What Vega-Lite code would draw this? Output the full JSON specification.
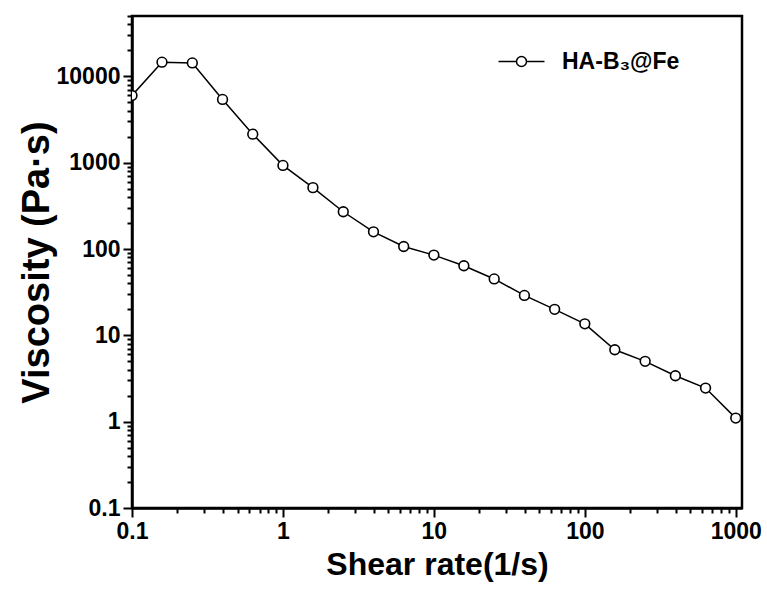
{
  "$schema": "https://vega.github.io/schema/vega-lite/v6.json",
  "width": 610,
  "height": 492,
  "autosize": "none",
  "padding": {"left": 132, "top": 16, "right": 25, "bottom": 82},
  "background": "white",
  "config": {
    "view": {"stroke": "#000000", "strokeWidth": 2.5, "strokeOpacity": 1},
    "font": "Liberation Sans",
    "axis": {
      "domainColor": "#000000",
      "domainWidth": 2.5,
      "domainOpacity": 1,
      "tickColor": "#000000",
      "tickWidth": 2,
      "tickOpacity": 1,
      "grid": false,
      "labelFont": "Liberation Sans",
      "labelFontWeight": "bold",
      "labelFontSize": 23,
      "labelColor": "#000000",
      "titleFont": "Liberation Sans",
      "titleFontWeight": "bold",
      "titleColor": "#000000",
      "labelOverlap": false,
      "labelFlush": false
    }
  },
  "data": {
    "values": [
      {"rate": 0.1, "viscosity": 6000, "series": "HA-B₃@Fe"},
      {"rate": 0.158, "viscosity": 14600, "series": "HA-B₃@Fe"},
      {"rate": 0.251, "viscosity": 14300, "series": "HA-B₃@Fe"},
      {"rate": 0.398, "viscosity": 5400, "series": "HA-B₃@Fe"},
      {"rate": 0.631, "viscosity": 2140, "series": "HA-B₃@Fe"},
      {"rate": 1, "viscosity": 930, "series": "HA-B₃@Fe"},
      {"rate": 1.58, "viscosity": 514, "series": "HA-B₃@Fe"},
      {"rate": 2.51, "viscosity": 270, "series": "HA-B₃@Fe"},
      {"rate": 3.98, "viscosity": 158, "series": "HA-B₃@Fe"},
      {"rate": 6.31, "viscosity": 107, "series": "HA-B₃@Fe"},
      {"rate": 10, "viscosity": 85, "series": "HA-B₃@Fe"},
      {"rate": 15.8, "viscosity": 64, "series": "HA-B₃@Fe"},
      {"rate": 25.1, "viscosity": 45, "series": "HA-B₃@Fe"},
      {"rate": 39.8, "viscosity": 29, "series": "HA-B₃@Fe"},
      {"rate": 63.1, "viscosity": 20, "series": "HA-B₃@Fe"},
      {"rate": 100, "viscosity": 13.6, "series": "HA-B₃@Fe"},
      {"rate": 158, "viscosity": 6.8, "series": "HA-B₃@Fe"},
      {"rate": 251, "viscosity": 5.0, "series": "HA-B₃@Fe"},
      {"rate": 398, "viscosity": 3.4, "series": "HA-B₃@Fe"},
      {"rate": 631, "viscosity": 2.45, "series": "HA-B₃@Fe"},
      {"rate": 1000, "viscosity": 1.1, "series": "HA-B₃@Fe"}
    ]
  },
  "resolve": {"axis": {"x": "independent", "y": "independent"}},
  "layer": [
    {
      "mark": {"type": "line", "color": "black", "strokeWidth": 1.5, "clip": true},
      "encoding": {
        "x": {
          "field": "rate",
          "type": "quantitative",
          "title": "Shear rate(1/s)",
          "scale": {"type": "log", "domain": [0.1, 1100], "nice": false},
          "axis": {
            "orient": "bottom",
            "values": [0.1, 1, 10, 100, 1000],
            "format": "~g",
            "tickSize": 9,
            "labelPadding": 3,
            "titlePadding": 6,
            "titleFontSize": 32
          }
        },
        "y": {
          "field": "viscosity",
          "type": "quantitative",
          "title": "Viscosity (Pa·s)",
          "scale": {"type": "log", "domain": [0.1, 50000], "nice": false},
          "axis": {
            "orient": "left",
            "values": [0.1, 1, 10, 100, 1000, 10000],
            "format": "~g",
            "tickSize": 9,
            "labelPadding": 3,
            "titlePadding": 0,
            "titleFontSize": 38
          }
        },
        "color": {
          "field": "series",
          "type": "nominal",
          "scale": {"range": ["black"]},
          "legend": {
            "title": null,
            "orient": "none",
            "legendX": 378,
            "legendY": 34,
            "padding": 0,
            "symbolType": "M-4.6,0L-1,0M-1,0A1,1,0,1,1,1,0A1,1,0,1,1,-1,0M1,0L4.6,0",
            "symbolSize": 100,
            "symbolStrokeWidth": 1.5,
            "symbolStrokeColor": "black",
            "symbolFillColor": "white",
            "labelOffset": 29,
            "labelFont": "Liberation Sans",
            "labelFontWeight": "bold",
            "labelFontSize": 23,
            "labelColor": "black"
          }
        }
      }
    },
    {
      "mark": {"type": "point", "shape": "circle", "filled": false, "fill": "white", "fillOpacity": 1, "stroke": "black", "strokeWidth": 1.6, "size": 95, "opacity": 1, "clip": true},
      "encoding": {
        "x": {
          "field": "rate",
          "type": "quantitative",
          "axis": {
            "orient": "bottom",
            "values": [0.2,0.3,0.4,0.5,0.6,0.7,0.8,0.9,2,3,4,5,6,7,8,9,20,30,40,50,60,70,80,90,200,300,400,500,600,700,800,900],
            "labels": false,
            "domain": false,
            "title": null,
            "tickSize": 5
          }
        },
        "y": {
          "field": "viscosity",
          "type": "quantitative",
          "axis": {
            "orient": "left",
            "values": [0.2,0.3,0.4,0.5,0.6,0.7,0.8,0.9,2,3,4,5,6,7,8,9,20,30,40,50,60,70,80,90,200,300,400,500,600,700,800,900,2000,3000,4000,5000,6000,7000,8000,9000,20000,30000,40000,50000],
            "labels": false,
            "domain": false,
            "title": null,
            "tickSize": 5
          }
        }
      }
    }
  ]
}
